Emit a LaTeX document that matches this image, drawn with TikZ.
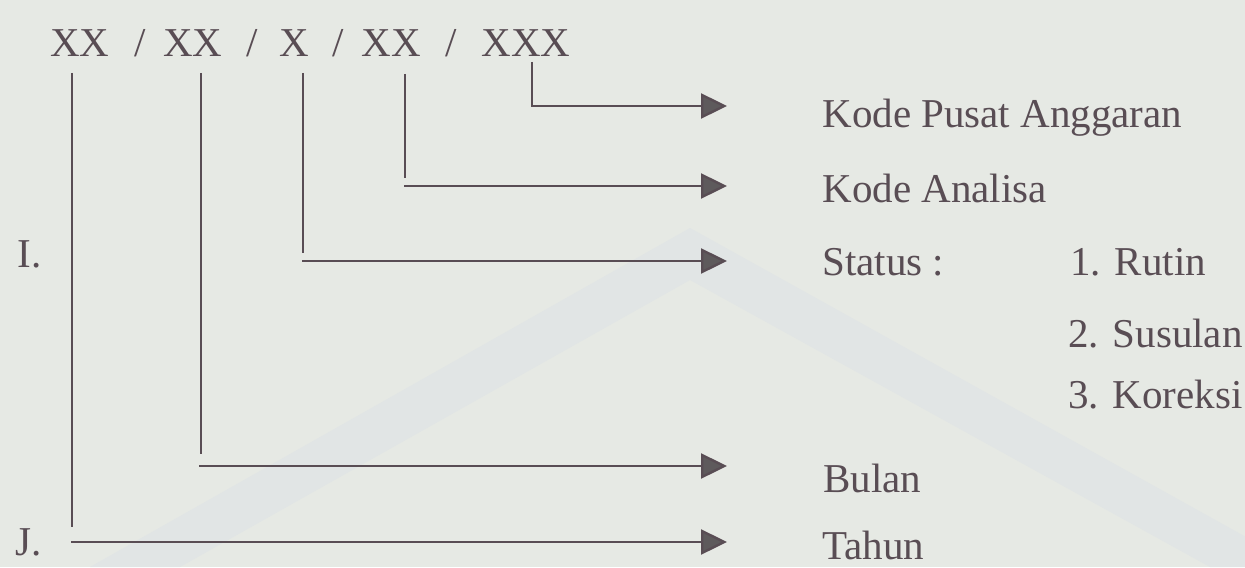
\documentclass[tikz,border=0pt]{standalone}
\usepackage{fontspec}
\setmainfont{Liberation Serif}
\usetikzlibrary{arrows.meta}
\definecolor{paper}{HTML}{E6E9E4}
\definecolor{ink}{HTML}{594D54}
\definecolor{tipfill}{HTML}{5E5A5C}
\definecolor{wmark}{HTML}{E1E5E5}

\begin{document}
\begin{tikzpicture}[x=0.5pt,y=-0.5pt,
  lbl/.style={anchor=base west, inner sep=0pt, text=ink, font=\fontsize{20.5}{24}\selectfont},
  tok/.style={anchor=base, inner sep=0pt, text=ink, font=\fontsize{20.5}{24}\selectfont},
  leg/.style={draw=ink, line width=1.2pt},
  arr/.style={leg, -{Triangle[length=13pt,width=12.5pt,fill=tipfill]}}]

% paper
\fill[paper] (0,0) rectangle (1245,567);
\useasboundingbox (0,0) rectangle (1245,567);

% faint emblem band printed on the page
\begin{scope}
  \clip (0,0) rectangle (1245,567);
  \fill[wmark] (90,567) -- (690,228) -- (1300,567) -- (1210,567) -- (690,280) -- (180,567) -- cycle;
\end{scope}

% code format
\node[tok] (c1) at (80,57)  {XX};
\node[tok] (s1) at (140,57) {/};
\node[tok] (c2) at (193,57) {XX};
\node[tok] (s2) at (252,57) {/};
\node[tok] (c3) at (294,57) {X};
\node[tok] (s3) at (338,57) {/};
\node[tok] (c4) at (391,57) {XX};
\node[tok] (s4) at (451,57) {/};
\node[tok] (c5) at (526,57) {XXX};

% row markers
\node[lbl] (mi) at (17,267) {I.};
\node[lbl] (mj) at (15,555) {J.};

% meanings of the parts
\node[lbl] (pusat)   at (822,127) {Kode Pusat Anggaran};
\node[lbl] (analisa) at (822,202) {Kode Analisa};
\node[lbl] (status)  at (822,275) {Status :};
\node[lbl] (st1)     at (1070,275) {1. Rutin};
\node[lbl] (st2)     at (1068,347) {2. Susulan};
\node[lbl] (st3)     at (1068,408) {3. Koreksi};
\node[lbl] (bulan)   at (823,492) {Bulan};
\node[lbl] (tahun)   at (822,559) {Tahun};

% leader points
\coordinate (p0) at (532,62);  \coordinate (p1) at (532,106); \coordinate (p2) at (727,106);
\coordinate (a0) at (405,74);  \coordinate (a1) at (405,178); \coordinate (a2) at (404,186); \coordinate (a3) at (727,186);
\coordinate (k0) at (303,73);  \coordinate (k1) at (303,253); \coordinate (k2) at (302,261); \coordinate (k3) at (727,261);
\coordinate (b0) at (201,73);  \coordinate (b1) at (201,454); \coordinate (b2) at (199,466); \coordinate (b3) at (727,466);
\coordinate (t0) at (72,73);   \coordinate (t1) at (72,527);  \coordinate (t2) at (71,542);  \coordinate (t3) at (727,542);

% leaders
\draw[arr] (p0) -- (p1) -- (p2);
\draw[leg] (a0) -- (a1);  \draw[arr] (a2) -- (a3);
\draw[leg] (k0) -- (k1);  \draw[arr] (k2) -- (k3);
\draw[leg] (b0) -- (b1);  \draw[arr] (b2) -- (b3);
\draw[leg] (t0) -- (t1);  \draw[arr] (t2) -- (t3);
\end{tikzpicture}
\end{document}
